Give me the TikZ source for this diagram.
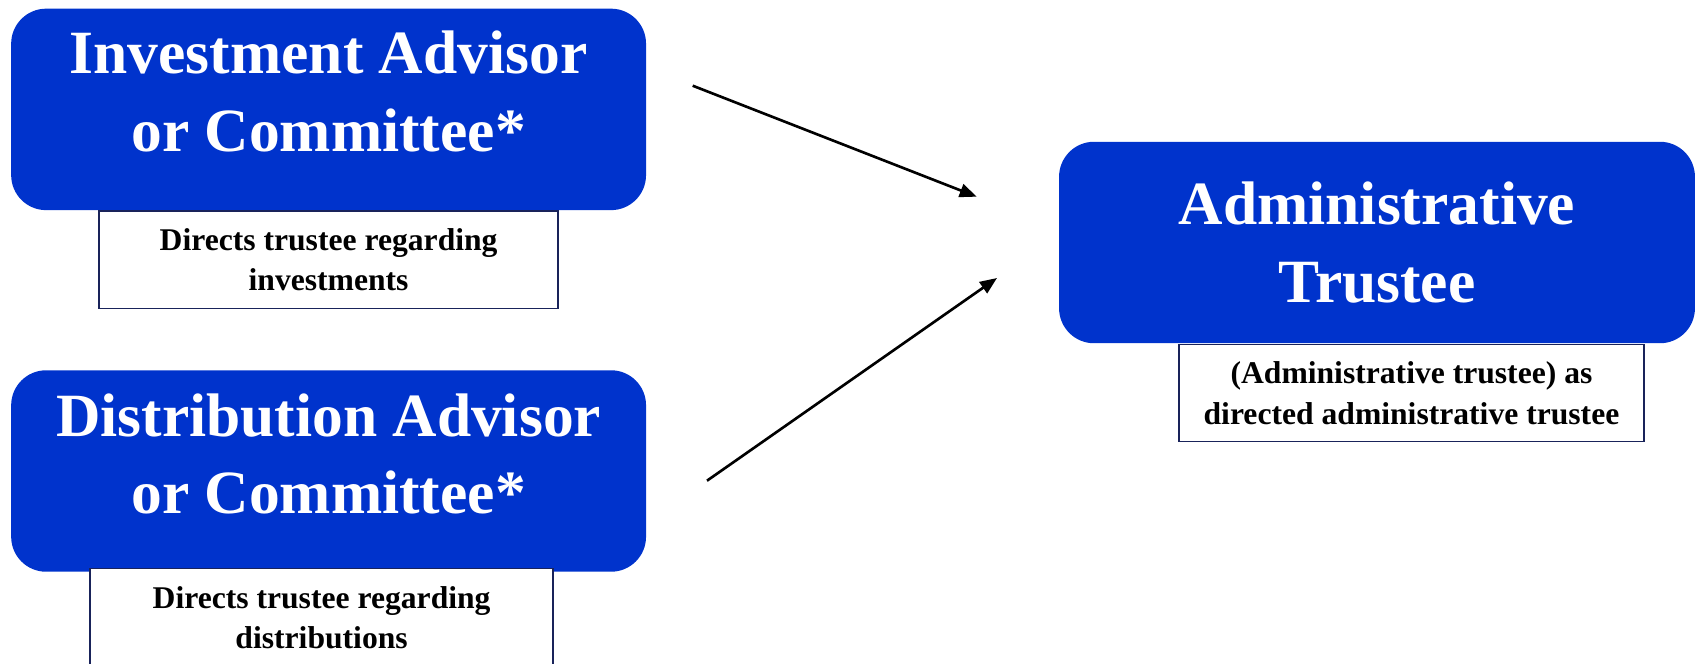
\documentclass[tikz,border=0pt]{standalone}
\usepackage{fontspec}
\setmainfont{Liberation Serif}
\usetikzlibrary{arrows.meta, positioning}
\definecolor{trustblue}{RGB}{0,51,204}
\definecolor{navy}{RGB}{25,35,90}

\begin{document}
\begin{tikzpicture}[x=0.02cm, y=-0.02cm,
  rolebox/.style={fill=trustblue, draw=none, rounded corners=0.7cm,
    minimum width=12.7cm, minimum height=4.03cm},
  roletext/.style={text=white, align=center,
    font=\bfseries\fontsize{35}{44}\selectfont},
  notebox/.style={draw=navy, line width=0.8pt, fill=white,
    minimum width=9.2cm, minimum height=1.95cm, align=center,
    font=\bfseries\fontsize{18}{23}\selectfont},
  link/.style={line width=1.5pt, -{Triangle[length=0.34cm,width=0.27cm]}}]
  \useasboundingbox (0,0) rectangle (1698,663);
  \clip (0,0) rectangle (1698,663);
  % advisors on the left
  \node[rolebox] (inv) at (328.6,109.4) {};
  \node[roletext] (invtxt) at ([yshift=0.36cm]inv.center) {Investment Advisor\\or Committee*};
  \node[notebox, minimum width=9.18cm, below=0pt of inv] (invnote) {Directs trustee regarding\\investments};
  \node[rolebox] (dist) at (328.6,471) {};
  \node[roletext] (disttxt) at ([yshift=0.34cm]dist.center) {Distribution Advisor\\or Committee*};
  \node[notebox, minimum width=9.26cm, below=-0.08cm of dist, xshift=-0.14cm] (distnote) {Directs trustee regarding\\distributions};
  % trustee on the right
  \node[rolebox, minimum width=12.72cm] (adm) at (1377,242.5) {};
  \node[roletext] (admtxt) at (adm.center) {Administrative\\Trustee};
  \node[notebox, minimum width=9.3cm, below=0pt of adm, xshift=0.69cm] (admnote) {(Administrative trustee) as\\directed administrative trustee};
  % arrows
  \coordinate (invend) at (692.7,85.7);
  \coordinate (invtip) at (976.7,196.7);
  \coordinate (distend) at (707,480.7);
  \coordinate (disttip) at (997,278);
  \draw[link] (invend) -- (invtip);
  \draw[link] (distend) -- (disttip);
\end{tikzpicture}
\end{document}
